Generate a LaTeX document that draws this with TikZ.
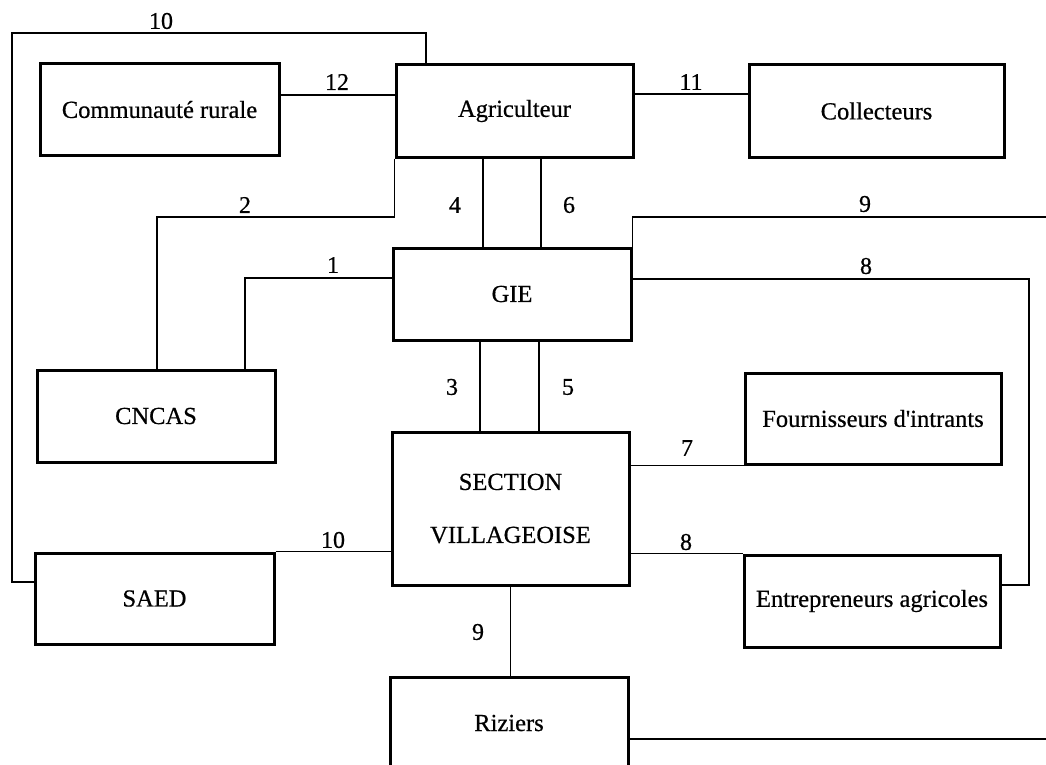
\documentclass[tikz,border=0pt]{standalone}
\usepackage{fontspec}
\setmainfont{Liberation Serif}[FakeBold=0.6]
\begin{document}
\begin{tikzpicture}[x=1pt,y=-1pt,
  box/.style={draw, line width=3pt, minimum width=#1, minimum height=92pt,
    inner sep=0pt, align=center, font=\fontsize{24.5}{29}\selectfont},
  box/.default=238pt,
  conn/.style={line width=1.9pt},
  lab/.style={inner sep=0pt, font=\fontsize{24}{28}\selectfont}]
\useasboundingbox (0,0) rectangle (1046,765);
\clip (0,0) rectangle (1046,765);

% boxes
\node[box=239pt, minimum height=91pt] (comm)  at (159.5,109.5) {Communauté rurale};
\node[box=237pt] (agri)  at (514.5,111) {Agriculteur};
\node[box=255pt] (coll)  at (876.5,111) {Collecteurs};
\node[box=238pt] (gie)   at (512,294) {GIE};
\node[box=238pt] (cncas) at (156,416) {CNCAS};
\node[box=256pt, minimum height=91pt] (four) at (873,418.5) {Fournisseurs d\textquotesingle intrants};
\node[box=237pt, minimum height=153pt, font=\fontsize{24.5}{53}\selectfont] (sv) at (510.5,508.5) {SECTION\\VILLAGEOISE};
\node[box=239pt, minimum height=91pt] (saed) at (154.5,598.5) {SAED};
\node[box=256pt] (entr)  at (872,601) {Entrepreneurs agricoles};
\node[box=238pt] (riz)   at (509,723) {Riziers};

% connectors
\coordinate (p12) at ([yshift=14.5pt]comm.east);
\draw[conn] (p12) -- (p12 -| agri.west);

\coordinate (p11) at ([yshift=17pt]agri.east);
\draw[conn] (p11) -- (p11 -| coll.west);

\coordinate (s10) at ([yshift=16.5pt]saed.west);
\coordinate (k10) at (12,33);
\coordinate (a10) at ([xshift=-88.5pt]agri.north);
\draw[conn] (s10) -| (k10) -| (a10);

\coordinate (k2) at (157,217);
\draw[conn] (agri.south west) |- (k2) -- (k2 |- cncas.north);

\coordinate (p4) at ([xshift=-31.5pt]agri.south);
\draw[conn] (p4) -- (p4 |- gie.north);
\coordinate (p6) at ([xshift=26.5pt]agri.south);
\draw[conn] (p6) -- (p6 |- gie.north);

\coordinate (e9) at (1046,217);
\draw[conn] (gie.north east) |- (e9);

\coordinate (g1) at ([yshift=16pt]gie.west);
\coordinate (c1) at ([xshift=89pt]cncas.north);
\draw[conn] (g1) -| (c1);

\coordinate (g8) at ([yshift=15pt]gie.east);
\coordinate (e8) at ([yshift=16pt]entr.east);
\coordinate (k8) at (1029,0);
\draw[conn] (g8) -| (k8 |- e8) -- (e8);

\coordinate (p3) at ([xshift=-32pt]gie.south);
\draw[conn] (p3) -- (p3 |- sv.north);
\coordinate (p5) at ([xshift=27pt]gie.south);
\draw[conn] (p5) -- (p5 |- sv.north);

\draw[conn] (four.south west) -- (four.south west -| sv.east);
\draw[conn] (entr.north west) -- (entr.north west -| sv.east);
\draw[conn] (saed.north east) -- (saed.north east -| sv.west);
\draw[conn] (sv.south) -- (sv.south |- riz.north);

\coordinate (r9) at ([yshift=-16pt]riz.east);
\coordinate (er) at (1046,0);
\draw[conn] (r9) -- (r9 -| er);

% labels
\node[lab] (l10a) at (161,21) {10};
\node[lab] (l12)  at (337,82) {12};
\node[lab] (l11)  at (691,82) {11};
\node[lab] (l2)   at (245,205) {2};
\node[lab] (l4)   at (455,205) {4};
\node[lab] (l6)   at (569,205) {6};
\node[lab] (l9a)  at (865,204) {9};
\node[lab] (l1)   at (333,265) {1};
\node[lab] (l8a)  at (866,266) {8};
\node[lab] (l3)   at (452,387) {3};
\node[lab] (l5)   at (568,387) {5};
\node[lab] (l7)   at (687,448) {7};
\node[lab] (l10b) at (333,540) {10};
\node[lab] (l8b)  at (686,542) {8};
\node[lab] (l9b)  at (478,632) {9};
\end{tikzpicture}
\end{document}
